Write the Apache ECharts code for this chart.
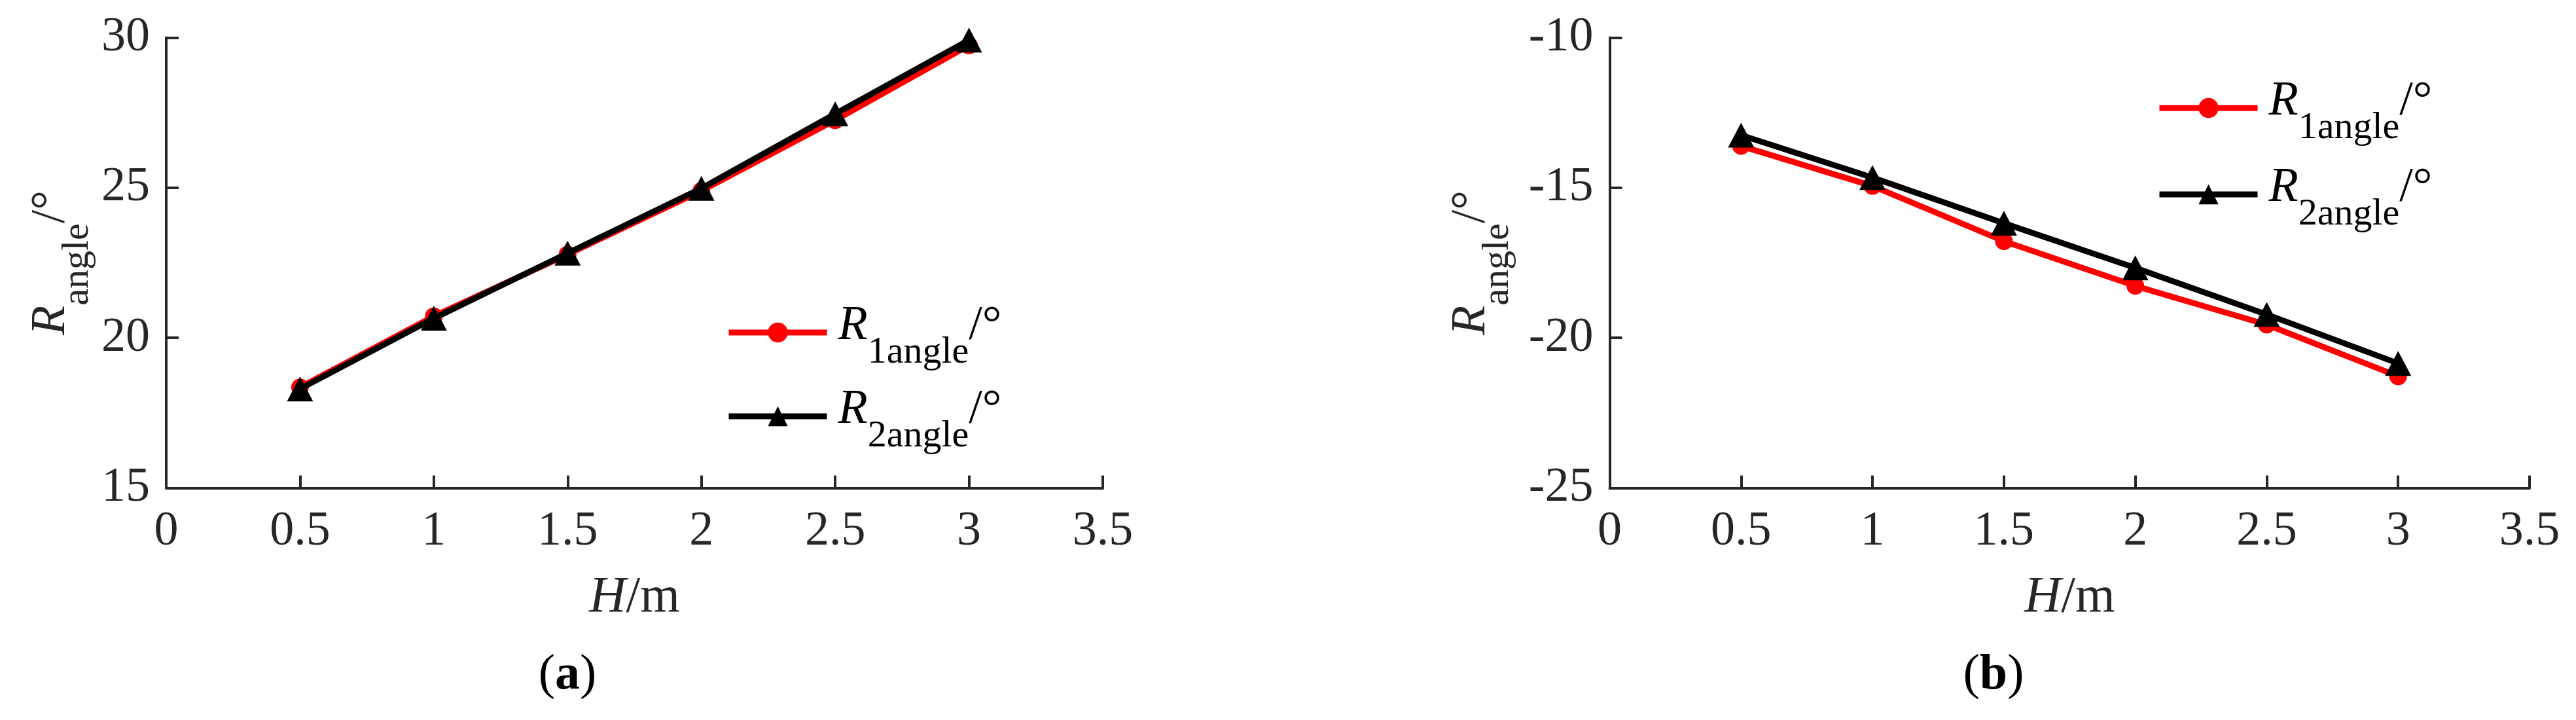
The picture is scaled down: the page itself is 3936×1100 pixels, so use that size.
<!DOCTYPE html>
<html>
<head>
<meta charset="utf-8">
<title>R_angle - H</title>
<script src="https://cdn.jsdelivr.net/npm/echarts@6/dist/echarts.min.js"></script>
<style>
html, body { margin: 0; padding: 0; background: #fff; }
#chart { width: 3936px; height: 1100px; }
</style>
</head>
<body>
<div id="chart"></div>
<script>
// 高度 H/m
var heights = [0.5, 1, 1.5, 2, 2.5, 3];
// (a) R1angle / R2angle
var r1AngleA = [18.35, 20.72, 22.78, 24.9, 27.25, 29.74];
var r2AngleA = [18.3, 20.65, 22.82, 24.98, 27.46, 29.92];
// (b) R1angle / R2angle
var r1AngleB = [-13.61, -14.94, -16.78, -18.27, -19.56, -21.28];
var r2AngleB = [-13.25, -14.66, -16.18, -17.67, -19.22, -20.85];
// 坐标轴刻度
var xRange = [0, 3.5, 0.5];
var yRangeA = [15, 30, 5];
var yRangeB = [-25, -10, 5];

var FONT = '"Liberation Serif", "Times New Roman", serif';
var AXIS_COLOR = '#262626';

function pairs(ys) {
  return heights.map(function (h, i) { return [h, ys[i]]; });
}

// 下标：用 padding 把小字往下压
function angleRich(color, leftPad) {
  return {
    i: { fontFamily: FONT, fontStyle: 'italic', fontSize: 74, padding: [14, 0, 0, leftPad], verticalAlign: 'top', color: color },
    s: { fontFamily: FONT, fontSize: 58, padding: [62, 0, 0, 0], verticalAlign: 'top', color: color },
    n: { fontFamily: FONT, fontSize: 74, padding: [14, 0, 0, 0], verticalAlign: 'top', color: color }
  };
}

var legendNames = {
  R1a: '{i|R}{s|1angle}{n|/°}',
  R2a: '{i|R}{s|2angle}{n|/°}',
  R1b: '{i|R}{s|1angle}{n|/°}',
  R2b: '{i|R}{s|2angle}{n|/°}'
};

function xAxisOf(gridIndex) {
  return {
    type: 'value', gridIndex: gridIndex,
    min: xRange[0], max: xRange[1], interval: xRange[2],
    axisLine: { show: true, onZero: false, lineStyle: { color: AXIS_COLOR, width: 4 } },
    axisTick: { show: true, inside: true, length: 19, lineStyle: { color: AXIS_COLOR, width: 4 } },
    axisLabel: { margin: 30, fontFamily: FONT, fontSize: 74, color: AXIS_COLOR },
    splitLine: { show: false },
    name: '{i|H}/m', nameLocation: 'middle', nameGap: 129,
    nameTextStyle: {
      fontFamily: FONT, fontSize: 78, color: AXIS_COLOR,
      rich: { i: { fontFamily: FONT, fontStyle: 'italic', fontSize: 78, color: AXIS_COLOR } }
    }
  };
}

function yAxisOf(gridIndex, range, nameGap) {
  return {
    type: 'value', gridIndex: gridIndex,
    min: range[0], max: range[1], interval: range[2],
    axisLine: { show: true, onZero: false, lineStyle: { color: AXIS_COLOR, width: 4 } },
    axisTick: { show: true, inside: true, length: 19, lineStyle: { color: AXIS_COLOR, width: 4 } },
    axisLabel: { margin: 25, fontFamily: FONT, fontSize: 74, color: AXIS_COLOR },
    splitLine: { show: false },
    name: '{i|R}{s|angle}{n|/°}', nameLocation: 'middle', nameRotate: 90, nameGap: nameGap,
    nameTextStyle: { rich: angleRich(AXIS_COLOR, 0) }
  };
}

function redLine(name, idx, ys) {
  return {
    name: name, type: 'line', xAxisIndex: idx, yAxisIndex: idx, data: pairs(ys),
    symbol: 'circle', symbolSize: 27, z: 2,
    lineStyle: { color: '#ff0000', width: 9 }, itemStyle: { color: '#ff0000' }
  };
}

function blackLine(name, idx, ys) {
  return {
    name: name, type: 'line', xAxisIndex: idx, yAxisIndex: idx, data: pairs(ys),
    symbol: 'triangle', symbolSize: [40, 38], z: 3,
    lineStyle: { color: '#000000', width: 9 }, itemStyle: { color: '#000000' }
  };
}

function legendOf(names, left, top, gap) {
  return {
    data: names, orient: 'vertical', left: left, top: top, padding: 0, itemGap: gap,
    itemWidth: 150, itemHeight: 38, selectedMode: false,
    lineStyle: { width: 9 },
    formatter: function (n) { return legendNames[n]; },
    textStyle: { rich: angleRich('#000000', 12) }
  };
}

var myChart = echarts.init(document.getElementById('chart'));
myChart.setOption({
  animation: false,
  backgroundColor: '#ffffff',
  grid: [
    { left: 254, top: 57.5, width: 1431, height: 688 },
    { left: 2459.5, top: 57.5, width: 1405.5, height: 688 }
  ],
  xAxis: [xAxisOf(0), xAxisOf(1)],
  yAxis: [yAxisOf(0, yRangeA, 106), yAxisOf(1, yRangeB, 142)],
  legend: [
    legendOf(['R1a', 'R2a'], 1109, 462, 22),
    legendOf(['R1b', 'R2b'], 3295, 119, 26)
  ],
  series: [
    redLine('R1a', 0, r1AngleA),
    blackLine('R2a', 0, r2AngleA),
    redLine('R1b', 1, r1AngleB),
    blackLine('R2b', 1, r2AngleB)
  ],
  graphic: [
    {
      type: 'text', x: 867, y: 1032,
      style: {
        text: '({b|a})', fontFamily: FONT, fontSize: 76, fill: '#000', align: 'center', verticalAlign: 'middle',
        rich: { b: { fontFamily: FONT, fontSize: 76, fontWeight: 'bold', fill: '#000' } }
      }
    },
    {
      type: 'text', x: 3046, y: 1032,
      style: {
        text: '({b|b})', fontFamily: FONT, fontSize: 76, fill: '#000', align: 'center', verticalAlign: 'middle',
        rich: { b: { fontFamily: FONT, fontSize: 76, fontWeight: 'bold', fill: '#000' } }
      }
    }
  ]
});
</script>
</body>
</html>
